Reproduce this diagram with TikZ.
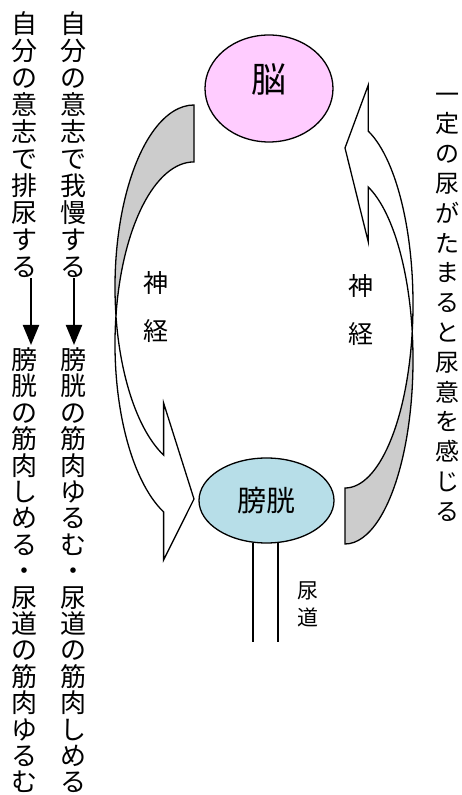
\documentclass[tikz,border=0pt]{standalone}
\usepackage{fontspec}
\newfontfamily\cjk{Noto Sans CJK JP}
\usetikzlibrary{shapes.geometric,arrows.meta}
\definecolor{brainpink}{HTML}{FFCCFF}
\definecolor{bladderblue}{HTML}{B7DEE8}
\definecolor{backgray}{HTML}{CCCCCC}
\begin{document}
\begin{tikzpicture}[x=1pt,y=1pt,
  outl/.style={draw=black,line width=1.3pt,line join=miter},
  organ/.style={shape=ellipse,draw=black,line width=1.3pt,inner sep=0pt},
  vcol/.style={align=center,inner sep=0pt},
  arr/.style={line width=2pt,-{Triangle[length=20pt,width=16pt]}},
  tube/.style={line width=1.3pt}
]
\useasboundingbox (0,0) rectangle (461,795);

% left curved arrow (brain -> bladder)
\filldraw[outl,fill=backgray] (194,690)
  arc[start angle=90,end angle=189,x radius=79pt,y radius=182pt]
  arc[start angle=171,end angle=90,x radius=79pt,y radius=182pt] -- cycle;
\filldraw[outl,fill=white] (115.97,479.5)
  arc[start angle=171,end angle=247.4,x radius=79pt,y radius=182pt]
  -- (163.6,235) -- (194,296) -- (163.6,392) -- (163.6,339.9)
  arc[start angle=247.4,end angle=189,x radius=79pt,y radius=182pt] -- cycle;

% right curved arrow (bladder -> brain)
\filldraw[outl,fill=backgray] (345,251)
  arc[start angle=-90,end angle=8.75,x radius=68pt,y radius=184pt]
  arc[start angle=-8.75,end angle=-90,x radius=68pt,y radius=184pt] -- cycle;
\filldraw[outl,fill=white] (412.2,463)
  arc[start angle=-8.75,end angle=70,x radius=68pt,y radius=184pt]
  -- (368.3,710) -- (345,647) -- (368.3,553) -- (368.3,607.9)
  arc[start angle=70,end angle=8.75,x radius=68pt,y radius=184pt] -- cycle;

% organs
\node[organ,fill=brainpink,minimum width=128pt,minimum height=107pt,
  font={\cjk\fontsize{35}{40}\selectfont},text height=30pt,text depth=22pt] (brain) at (269,706.5) {脳};
\node[organ,fill=bladderblue,minimum width=135pt,minimum height=85pt,
  font={\cjk\fontsize{29}{32}\selectfont}] (bladder) at (266.5,294.5) {膀胱};

% urethra
\coordinate (u1) at (253,153);
\coordinate (u2) at (278,153);
\draw[tube] (u1 |- bladder.-108) -- (u1);
\draw[tube] (u2 |- bladder.-74.7) -- (u2);
\node[vcol,font={\cjk\fontsize{21}{27}\selectfont}] (urethra) at (308,191) {尿\\道};

% nerve labels
\node[vcol,font={\cjk\fontsize{25}{48}\selectfont}] (nerveL) at (156,488) {神\\経};
\node[vcol,font={\cjk\fontsize{25}{48}\selectfont}] (nerveR) at (361,485) {神\\経};

% right text
\node[vcol,font={\cjk\fontsize{24}{29.8}\selectfont}] (sense) at (447,488)
  {一\\定\\の\\尿\\が\\た\\ま\\る\\と\\尿\\意\\を\\感\\じ\\る};

% left columns
\node[vcol,font={\cjk\fontsize{26}{27}\selectfont}] (c1a) at (24,650)
  {自\\分\\の\\意\\志\\で\\排\\尿\\す\\る};
\node[vcol,font={\cjk\fontsize{26}{26.4}\selectfont}] (c1b) at (24,224.6)
  {膀\\胱\\の\\筋\\肉\\し\\め\\る\\・\\尿\\道\\の\\筋\\肉\\ゆ\\る\\む};
\node[vcol,font={\cjk\fontsize{26}{27}\selectfont}] (c2a) at (73,650)
  {自\\分\\の\\意\\志\\で\\我\\慢\\す\\る};
\node[vcol,font={\cjk\fontsize{26}{26.4}\selectfont}] (c2b) at (73,224.6)
  {膀\\胱\\の\\筋\\肉\\ゆ\\る\\む\\・\\尿\\道\\の\\筋\\肉\\し\\め\\る};

\coordinate (a1e) at (31,450);
\coordinate (a2e) at (74,450);
\draw[arr] (c1a.south -| a1e) -- (a1e);
\draw[arr] (c2a.south -| a2e) -- (a2e);
\end{tikzpicture}
\end{document}
